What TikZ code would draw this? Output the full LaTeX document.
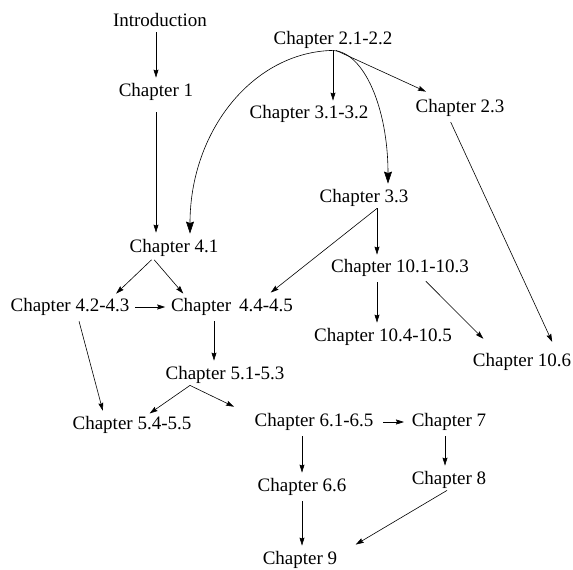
\documentclass[tikz,border=0pt]{standalone}
\usepackage{fontspec}
\setmainfont{Liberation Serif}
\usetikzlibrary{arrows.meta,positioning}

\begin{document}
\begin{tikzpicture}[x=1pt, y=-1pt, >={Stealth[length=8pt, width=5pt, inset=1pt]},
      every path/.style={line width=0.6pt},
      chap/.style={inner sep=1.5pt, font=\fontsize{19}{22}\selectfont},
      gap/.style={shorten <=4pt, shorten >=4pt},
      bigtip/.style={-{Stealth[length=12pt, width=8pt, inset=1.5pt]}}]
    \useasboundingbox (0,0) rectangle (573,570);
    \node[chap] (intro) at (160,20) {Introduction};
    \node[chap] (c1) at (156,92) {Chapter 1};
    \node[chap] (c2122) at (333,40) {Chapter 2.1-2.2};
    \node[chap] (c3132) at (309,114) {Chapter 3.1-3.2};
    \node[chap] (c23) at (460,108) {Chapter 2.3};
    \node[chap] (c33) at (364,198) {Chapter 3.3};
    \node[chap] (c41) at (174,248) {Chapter 4.1};
    \node[chap] (c4243) at (70,307) {Chapter 4.2-4.3};
    \node[chap] (c4445) at (232,307) {Chapter\, 4.4-4.5};
    \node[chap] (c101103) at (400,268) {Chapter 10.1-10.3};
    \node[chap] (c104105) at (383,337) {Chapter 10.4-10.5};
    \node[chap] (c106) at (522,362) {Chapter 10.6};
    \node[chap] (c5153) at (225,375) {Chapter 5.1-5.3};
    \node[chap] (c5455) at (132,425) {Chapter 5.4-5.5};
    \node[chap] (c6165) at (314,422) {Chapter 6.1-6.5};
    \node[chap] (c7) at (449,422) {Chapter 7};
    \node[chap] (c66) at (302,487) {Chapter 6.6};
    \node[chap] (c8) at (449,480) {Chapter 8};
    \node[chap] (c9) at (300,560) {Chapter 9};
    % top part
    \draw[->, gap] (intro.south -| c1) -- (c1.north);
    \draw[->, shorten <=10pt, shorten >=5pt] (c1.south) -- (c1.south |- c41.north);
    \draw[bigtip] (c2122.south) .. controls (253,52) and ([xshift=16pt]c41.north |- 0,131) .. ([xshift=16pt, yshift=4pt]c41.north);
    \draw[->, shorten >=3pt] (c2122.south) -- (c2122.south |- c3132.north);
    \draw[bigtip] (c2122.south) .. controls (364,52) and ([xshift=24pt]c33.north |- 0,108) .. ([xshift=24pt, yshift=4pt]c33.north);
    \draw[->] ([xshift=3pt]c2122.south) -- ([xshift=12pt, yshift=6pt]c23.north west);
    \draw[->, gap] ([xshift=-11pt]c23.south) -- ([xshift=-19pt, yshift=6pt]c106.north east);
    \draw[->] ([xshift=13pt]c33.south) -- ([xshift=-24pt, yshift=4pt]c4445.north east);
    \draw[->, shorten >=3pt] ([xshift=13pt]c33.south) -- ([xshift=13pt]c33.south |- c101103.north);
    \draw[->, gap] ([xshift=23pt]c101103.south) -- ([xshift=15pt, yshift=10pt]c106.north west);
    \draw[->, gap] ([xshift=-23pt]c101103.south) -- ([xshift=-23pt]c101103.south |- c104105.north);
    % middle part
    \draw[->, shorten <=2pt] ([xshift=-21pt]c41.south) -- ([xshift=-15pt, yshift=3pt]c4243.north east);
    \draw[->, shorten <=2pt] ([xshift=-21pt]c41.south) -- ([xshift=14pt, yshift=3pt]c4445.north west);
    \draw[->, gap] (c4243.east) -- (c4445.west);
    \draw[->, gap] ([xshift=-18pt]c4445.south) -- ([xshift=-18pt]c4445.south |- c5153.north);
    \draw[->, gap] ([xshift=8pt]c4243.south) -- ([xshift=33pt]c5455.north west);
    \draw[->, shorten >=2pt] ([xshift=-35pt]c5153.south) -- ([xshift=16pt]c5455.north);
    \draw[->, shorten >=2pt] ([xshift=-35pt]c5153.south) -- ([xshift=-17pt, yshift=4pt]c6165.north west);
    % bottom part
    \draw[->, shorten <=8pt, shorten >=6pt] (c6165.east) -- (c7.west);
    \draw[->, gap] (c6165.south -| c66) -- (c66.north);
    \draw[->, gap] ([xshift=-4pt]c7.south) -- ([xshift=-4pt]c7.south |- c8.north);
    \draw[->, gap] (c66.south) -- (c66.south |- c9.north);
    \draw[->, shorten >=2pt] ([xshift=-2pt]c8.south) -- ([xshift=15pt, yshift=4pt]c9.north east);
\end{tikzpicture}
\end{document}
